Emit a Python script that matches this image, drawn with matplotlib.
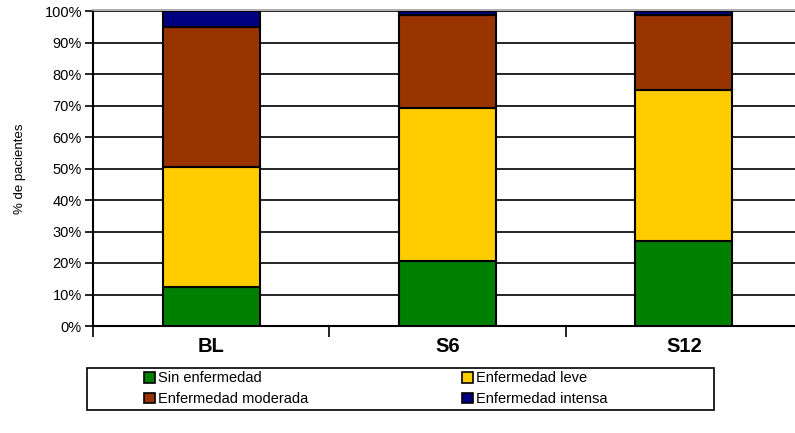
import matplotlib
matplotlib.use("Agg")
import matplotlib.pyplot as plt
from matplotlib.patches import Patch, Rectangle
from matplotlib.lines import Line2D
import numpy as np

plt.rcParams['font.family'] = ['Liberation Sans', 'DejaVu Sans']

categories = ["BL", "S6", "S12"]
series_names = ["Sin enfermedad", "Enfermedad leve", "Enfermedad moderada", "Enfermedad intensa"]
sin_enfermedad = [12.5, 20.6, 27.0]
leve = [38.1, 48.5, 47.9]
moderada = [44.4, 29.7, 23.9]
intensa = [5.0, 1.2, 1.2]
colors = ["#008000", "#FFCC00", "#993300", "#000080"]
yticks = [0, 10, 20, 30, 40, 50, 60, 70, 80, 90, 100]

W, H = 795, 433
fig = plt.figure(figsize=(W / 100, H / 100), dpi=100)
ax = fig.add_axes([93 / W, 1 - 326 / H, (802 - 93) / W, (326 - 11) / H])

x = np.arange(len(categories))
bottom = np.zeros(len(categories))
for vals, col in zip([sin_enfermedad, leve, moderada, intensa], colors):
    ax.bar(x, vals, width=0.41, bottom=bottom, color=col, edgecolor="black",
           linewidth=1.5, zorder=3)
    bottom += np.array(vals)

ax.set_xlim(-0.5, 2.5)
ax.set_ylim(0, 100)
ax.set_yticks(yticks)
ax.set_yticklabels([f"{t}%" for t in yticks], fontsize=10.5)
ax.yaxis.grid(True, color="black", linewidth=1.2, zorder=0)
ax.set_axisbelow(True)
ax.tick_params(axis="y", direction="out", length=6, width=1.2, pad=2)

ax.set_xticks(x)
ax.set_xticklabels(categories, fontsize=14.5, fontweight="bold")
ax.tick_params(axis="x", which="major", length=0, pad=8)
ax.set_xticks([-0.5, 0.5, 1.5, 2.5], minor=True)
ax.tick_params(axis="x", which="minor", direction="out", length=8, width=1.2)

for s in ["top", "right"]:
    ax.spines[s].set_visible(False)
ax.spines["left"].set_linewidth(1.5)
ax.spines["bottom"].set_linewidth(1.5)

ax.set_ylabel("% de pacientes", fontsize=9.5, labelpad=13)

# plot-area border (gray) at top
fig.add_artist(Line2D([93 / W, 1], [1 - 9.5 / H, 1 - 9.5 / H], color="#a0a0a0", lw=1.2))

# legend frame
fig.add_artist(Rectangle((87 / W, 1 - 410 / H), (714 - 87) / W, 42 / H,
                         transform=fig.transFigure, facecolor="white",
                         edgecolor="black", linewidth=1.2))

handles = [Patch(facecolor=c, edgecolor="black", linewidth=1.2) for c in colors]
order = [0, 2, 1, 3]  # row-wise filling for two columns
leg = fig.legend([handles[i] for i in order], [series_names[i] for i in order],
                 ncol=2, loc="upper left",
                 bbox_to_anchor=(143 / W, 1 - 370 / H),
                 fontsize=10.5, frameon=False,
                 handlelength=0.75, handleheight=0.75,
                 handletextpad=0.15, borderaxespad=0, labelspacing=0.45,
                 borderpad=0.1, columnspacing=10.6)

fig.savefig("out.png", dpi=100)
